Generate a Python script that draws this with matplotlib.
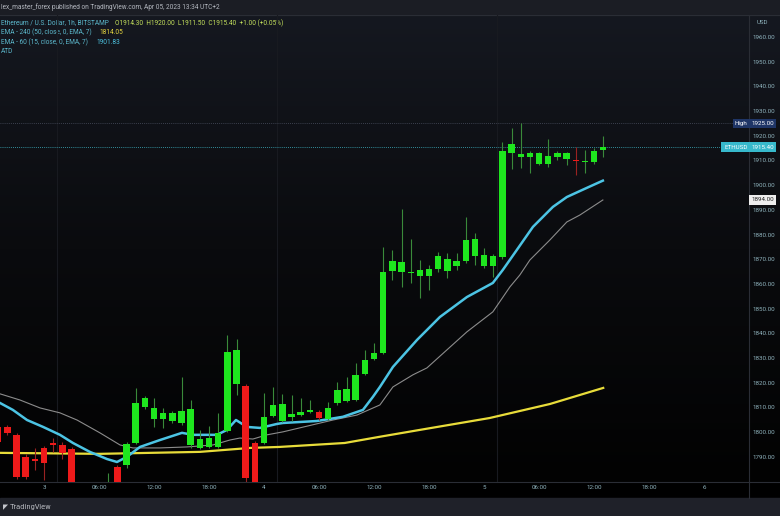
import numpy as np
import matplotlib
matplotlib.use('Agg')
import matplotlib.pyplot as plt
from matplotlib.colors import LinearSegmentedColormap

plt.rcParams['font.family'] = ['Roboto', 'DejaVu Sans']

# hourly candles, hour 0 = day 3 00:00
hours = list(range(-5, 62))
opens = [1802, 1802.1, 1798.9, 1790, 1789.2, 1793.6, 1795.6, 1794.8, 1793.2, 1779, 1775, 1773, 1776, 1785.9,
         1786.7, 1795.6, 1810.2, 1805.3, 1805.3, 1804.5, 1803.7, 1794.8, 1793.6, 1794, 1794, 1800.5, 1819.5,
         1818.7, 1795.6, 1795.6, 1806.6, 1804.5, 1806.2, 1807, 1808.2, 1808.2, 1805.3, 1811.8, 1812.6, 1813,
         1823.6, 1829.6, 1832.1, 1865.3, 1865, 1864.5, 1863.3, 1863.3, 1866.1, 1865.3, 1867.3, 1869.3, 1871.3,
         1867.3, 1867.3, 1870.9, 1913, 1911.4, 1911.4, 1908.6, 1908.6, 1911.4, 1910.6, 1910, 1909.4, 1909.4, 1914.3]
highs = [1803, 1803, 1799.5, 1791, 1793.6, 1794.5, 1797.6, 1796, 1794, 1779.5, 1777, 1778, 1783.5, 1786.5,
         1796, 1817.9, 1814.5, 1813.8, 1809.8, 1808.5, 1822.3, 1813, 1800.9, 1802.5, 1807.8, 1839.4, 1837.7,
         1819.5, 1796.5, 1815.9, 1818.3, 1815.5, 1815, 1813.8, 1813, 1809, 1812, 1820.3, 1822.3, 1828,
         1833.3, 1836.1, 1875, 1873.8, 1890.4, 1878.2, 1869.7, 1867.5, 1873, 1872.6, 1872.5, 1887.1, 1880.6,
         1874.5, 1872, 1917.5, 1923.2, 1925, 1914, 1913.5, 1918.7, 1914, 1913.5, 1915.5, 1914.3, 1915, 1920]
lows = [1795, 1799, 1781, 1781, 1784.7, 1780.6, 1792, 1789.2, 1777, 1772, 1770, 1771, 1774, 1776,
        1785.5, 1795, 1809.5, 1802.1, 1801.7, 1803.5, 1803, 1793.5, 1793, 1793.5, 1793.5, 1800, 1815.1,
        1780, 1776, 1795, 1806, 1804, 1804.5, 1806.5, 1807.8, 1805, 1804.8, 1811, 1812, 1812.5,
        1823, 1829, 1831.5, 1861.6, 1858.9, 1860.4, 1854.3, 1857.6, 1865, 1862.4, 1865.5, 1868.5, 1867.7,
        1866.5, 1862.8, 1870, 1906.6, 1907, 1904.9, 1908, 1907.5, 1910, 1908.2, 1904.1, 1904.9, 1908.5, 1911.5]
closes = [1796, 1799.7, 1781.9, 1782, 1788.4, 1787.5, 1794.8, 1791.6, 1779, 1775, 1773, 1776, 1778, 1778,
          1795.2, 1811.8, 1813.8, 1809.8, 1807.8, 1807.8, 1808.6, 1809.4, 1797.4, 1797.8, 1799.7, 1832.5, 1833.3,
          1781.5, 1778, 1806.1, 1811, 1811.4, 1807.4, 1808.2, 1809, 1805.7, 1809.8, 1817.1, 1817.5, 1823.2,
          1829.2, 1832.1, 1864.9, 1869.3, 1869, 1864.9, 1865.7, 1866.1, 1871.3, 1870.1, 1869.3, 1877.8, 1878.2,
          1871.7, 1871.3, 1913.8, 1916.7, 1912.6, 1913, 1913, 1911.8, 1913, 1913, 1909.9, 1909.8, 1913.8, 1915.4]

# indicator lines
ema60_h = [-4.8, -3.4, -1.85, -0.1, 1.74, 3.16, 5.0, 6.87, 7.96, 9.05, 10.47, 12.65, 15.05, 16.25, 18.87,
           19.96, 20.94, 22.14, 23.56, 25.4, 26.06, 29.77, 32.6, 34.79, 35.88, 36.64, 38.06, 40.68, 43.18,
           46.13, 48.96, 50.05, 51.58, 53.33, 55.51, 57.03, 59.21, 60.96]
ema60_v = [1811.8, 1809.0, 1804.9, 1802.1, 1798.9, 1795.6, 1792.0, 1789.1, 1787.9, 1790.0, 1794.0, 1796.8,
           1799.7, 1798.9, 1798.9, 1800.9, 1804.9, 1802.1, 1801.7, 1803.3, 1803.7, 1804.5, 1806.2, 1809.0,
           1814.3, 1818.3, 1826.4, 1837.3, 1846.6, 1854.7, 1860.4, 1865.7, 1873.8, 1883.1, 1891.2, 1895.2,
           1898.9, 1901.83]
gray_h = [-4.8, -2.62, -0.44, 1.74, 3.6, 6.1, 8.29, 9.7, 12.65, 15.6, 18.43, 20.28, 21.37, 22.79, 24.32,
          26.06, 31.52, 34.13, 36.64, 38.06, 40.24, 41.77, 43.95, 46.13, 48.96, 50.82, 51.9, 53.0, 55.18,
          57.03, 58.45, 60.96]
gray_v = [1815.5, 1813.0, 1809.8, 1807.8, 1804.9, 1799.7, 1794.8, 1793.6, 1793.6, 1794.0, 1794.8, 1796.8,
          1797.6, 1797.2, 1798.9, 1800.1, 1804.9, 1806.9, 1811.0, 1818.3, 1823.2, 1826.0, 1833.3, 1840.6,
          1848.7, 1858.8, 1863.6, 1869.7, 1877.8, 1885.1, 1887.9, 1894.0]
ema240_h = [-4.8, 6.1, 17.0, 22.5, 25.7, 32.8, 36.6, 41.0, 48.6, 55.2, 61.0]
ema240_v = [1791.6, 1791.2, 1792.0, 1793.6, 1794.0, 1795.6, 1798.1, 1800.9, 1805.7, 1811.4, 1817.9]

price_ticks = list(range(1790, 1961, 10))
time_ticks = [0, 6, 12, 18, 24, 30, 36, 42, 48, 54, 60, 66, 72]
time_labels = ['3', '06:00', '12:00', '18:00', '4', '06:00', '12:00', '18:00', '5', '06:00', '12:00', '18:00', '6']
session_lines = [1.4, 25.4, 49.4]
high_price = 1925.0
last_price = 1915.40
gray_last = 1894.00

W, H = 780, 516
FS = 4.7
fig = plt.figure(figsize=(W / 100, H / 100), dpi=100, facecolor='black')

# background layer in pixel coordinates
bg = fig.add_axes([0, 0, 1, 1], zorder=0)
bg.set_xlim(0, W)
bg.set_ylim(H, 0)
bg.axis('off')
grad = LinearSegmentedColormap.from_list('bg', ['#151820', '#0a0b0e', '#020202'])
bg.imshow(np.linspace(0, 1, 256).reshape(-1, 1), extent=[0, W, 482, 15], cmap=grad, aspect='auto')
bg.add_patch(plt.Rectangle((0, 0), W, 15, color='#1b1d24'))
bg.add_patch(plt.Rectangle((0, 498), W, 18, color='#1f2129'))
bg.plot([0, W], [15, 15], color='#2a2d35', lw=0.8)
bg.plot([0, W], [482, 482], color='#2a2d35', lw=0.8)
bg.plot([749, 749], [15, 498], color='#2a2d35', lw=0.8)
bg.text(1, 7, 'lex_master_forex published on TradingView.com, Apr 05, 2023 13:34 UTC+2',
        color='#b4b8c0', fontsize=FS, va='center', ha='left')
bg.text(3, 507, '\u25e4 TradingView', color='#c4c6cc', fontsize=4.8, va='center', ha='left',
        family=['DejaVu Sans'])
bg.text(757, 22, 'USD', color='#8fb3bd', fontsize=4.4, va='center', ha='left')

# legend lines
bg.text(1, 23, 'Ethereum / U.S. Dollar, 1h, BITSTAMP', color='#5cb8cc', fontsize=FS, va='center')
bg.text(115, 23, 'O1914.30  H1920.00  L1911.50  C1915.40  +1.00 (+0.05%)', color='#c4e05c',
        fontsize=FS, va='center')
bg.text(1, 32.5, 'EMA - 240 (50, close, 0, EMA, 7)', color='#5cb8cc', fontsize=FS, va='center')
bg.text(99, 32.5, '1814.05', color='#e6d640', fontsize=FS, va='center')
bg.text(1, 42, 'EMA - 60 (15, close, 0, EMA, 7)', color='#5cb8cc', fontsize=FS, va='center')
bg.text(96, 42, '1901.83', color='#4dc3e0', fontsize=FS, va='center')
bg.text(1, 51.5, 'ATD', color='#5cb8cc', fontsize=FS, va='center')

# main chart
ax = fig.add_axes([0, 34 / H, 749 / W, 467 / H], zorder=1)
ax.patch.set_alpha(0)
ax.set_xlim(-4.8, 76.9)
ax.set_ylim(1779.8, 1968.9)
for s in ax.spines.values():
    s.set_visible(False)

for x in session_lines:
    ax.axvline(x, color='#181a20', lw=0.8, zorder=1)

ax.axhline(high_price, color='#4a5060', lw=0.6, ls=(0, (1, 1.5)), zorder=1)
ax.axhline(last_price, color='#3fb6c8', lw=0.6, ls=(0, (1, 1.5)), zorder=1)

ax.plot(ema240_h, ema240_v, color='#e8dc3a', lw=1.6, zorder=2)
ax.plot(gray_h, gray_v, color='#8c8c8c', lw=0.8, zorder=2)
ax.plot(ema60_h, ema60_v, color='#4cc4e4', lw=1.8, zorder=2, solid_joinstyle='round')

o = np.array(opens)
c = np.array(closes)
up = c >= o
body_col = np.where(up, '#1ee61e', '#ee1a1a')
wick_col = np.where(up, '#3a8a3a', '#9a2222')
ax.vlines(hours, lows, highs, colors=wick_col, lw=0.8, zorder=3)
ax.bar(hours, np.maximum(np.abs(c - o), 0.35), bottom=np.minimum(o, c), width=0.7,
       color=body_col, zorder=4, linewidth=0)

ax.yaxis.tick_right()
ax.set_yticks(price_ticks)
ax.set_yticklabels(['%.2f' % p for p in price_ticks])
ax.set_xticks(time_ticks)
ax.set_xticklabels(time_labels)
ax.tick_params(axis='y', length=0, pad=2.6, labelsize=4.5, labelcolor='#8fb3bd')
ax.tick_params(axis='x', length=0, pad=2.4, labelsize=4.5, labelcolor='#8fb3bd')

# price tags on the scale
def tag(price, text, fc, tc, x0=1.0):
    ax.text(x0 + 0.003, price, text, transform=ax.get_yaxis_transform(), fontsize=4.5, color=tc,
            va='center', ha='left', zorder=6,
            bbox=dict(boxstyle='square,pad=0.35', fc=fc, ec='none'))

tag(high_price, '1925.00', '#1f3566', 'white')
tag(last_price, '1915.40', '#37b9cc', 'white')
tag(gray_last, '1894.00', '#eeeeee', '#222222')
ax.text(0.998, high_price, 'High', transform=ax.get_yaxis_transform(), fontsize=4.5, color='white',
        va='center', ha='right', zorder=6, bbox=dict(boxstyle='square,pad=0.35', fc='#1f3566', ec='none'))
ax.text(0.998, last_price, 'ETHUSD', transform=ax.get_yaxis_transform(), fontsize=4.5, color='white',
        va='center', ha='right', zorder=6, bbox=dict(boxstyle='square,pad=0.45', fc='#37b9cc', ec='none'))

fig.savefig('out.png', dpi=100, facecolor='black')
